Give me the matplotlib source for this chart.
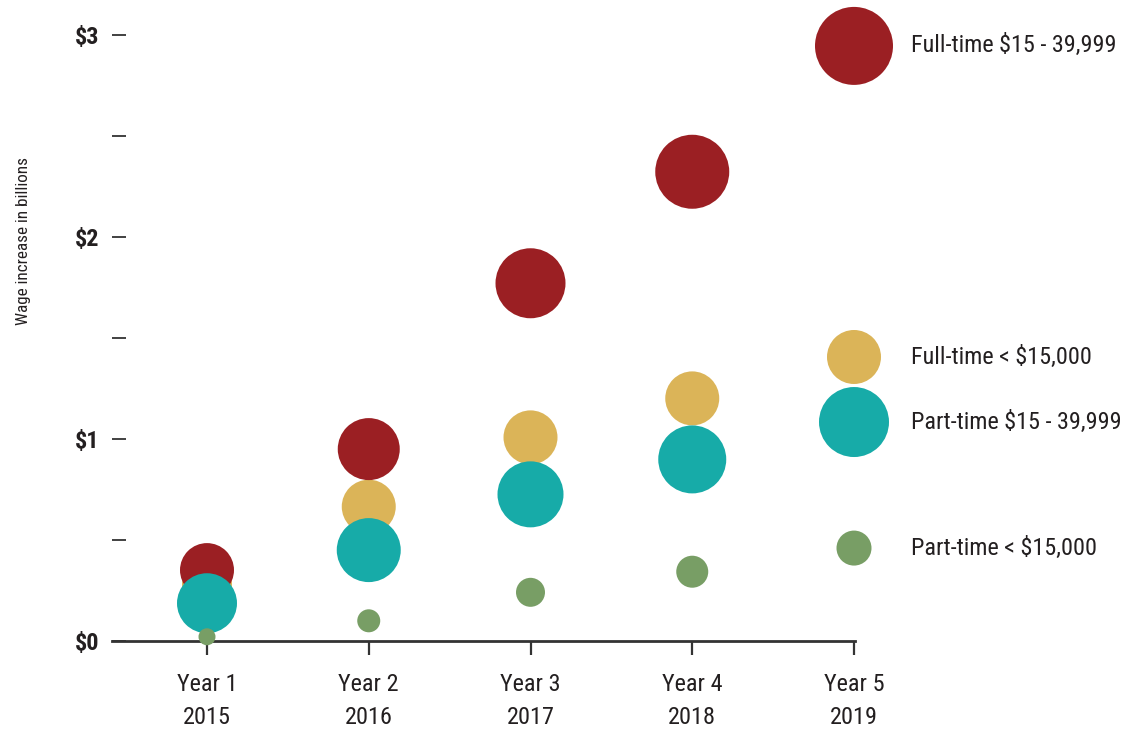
import matplotlib
matplotlib.use("Agg")
import matplotlib.pyplot as plt
from matplotlib import font_manager as fm

# ---------------- data ----------------
years = ["Year 1\n2015", "Year 2\n2016", "Year 3\n2017", "Year 4\n2018", "Year 5\n2019"]
series_names = ["Full-time < $15,000", "Full-time $15 - 39,999",
                "Part-time $15 - 39,999", "Part-time < $15,000"]
ft_low = [0.28, 0.665, 1.008, 1.201, 1.406]      # Full-time < $15,000
ft_mid = [0.351, 0.950, 1.771, 2.323, 2.946]     # Full-time $15 - 39,999
pt_mid = [0.187, 0.450, 0.726, 0.899, 1.084]     # Part-time $15 - 39,999
pt_low = [0.021, 0.100, 0.241, 0.343, 0.460]     # Part-time < $15,000
# bubble radii (pixels) as drawn in the reference
r_ft_low = [25, 27, 27, 27, 27]
r_ft_mid = [27, 31, 35, 37, 39]
r_pt_mid = [30, 32, 33, 34, 35]
r_pt_low = [8.5, 11.5, 14.5, 16, 17.5]
y_ticks = [0, 0.5, 1, 1.5, 2, 2.5, 3]
y_tick_labels = ["$0", "", "$1", "", "$2", "", "$3"]

colors = ["#DBB458", "#9B1F23", "#17ABA8", "#789E65"]

# ---------------- fonts ----------------
avail = {f.name for f in fm.fontManager.ttflist}
cands = ["Roboto Condensed", "Liberation Sans Narrow", "DejaVu Sans Condensed",
         "Open Sans Condensed", "Liberation Sans"]
fam = next((c for c in cands if c in avail), "DejaVu Sans")
narrow = fam in ("Liberation Sans Narrow", "DejaVu Sans Condensed", "Roboto Condensed", "Open Sans Condensed")
plt.rcParams['font.family'] = [fam, 'DejaVu Sans']
scale = 1.0 if narrow else 0.82

DPI = 100
W, H = 1131, 730
fig = plt.figure(figsize=(W / DPI, H / DPI), dpi=DPI)

left_px, right_px, bottom_px, top_px = 112, 855, 641, 35
ax = fig.add_axes([left_px / W, 1 - bottom_px / H,
                   (right_px - left_px) / W, (bottom_px - top_px) / H])
step = (854 - 207) / 4.0
x_left = -(207 - left_px) / step
ax.set_xlim(x_left, 4 + (855 - 854) / step)
ax.set_ylim(0, 3)

xs = list(range(len(years)))


def s_of(r):
    return [(2 * rr * 72 / DPI) ** 2 for rr in r]


for vals, rad, col in [(ft_low, r_ft_low, colors[0]), (ft_mid, r_ft_mid, colors[1]),
                       (pt_mid, r_pt_mid, colors[2]), (pt_low, r_pt_low, colors[3])]:
    ax.scatter(xs, vals, s=s_of(rad), color=col, edgecolors='none',
               clip_on=False, zorder=3)

# labels next to the Year 5 bubbles
label_x = 4 + (911 - 854) / step
for name, vals in zip(series_names, [ft_low, ft_mid, pt_mid, pt_low]):
    ax.text(label_x, vals[-1], name, ha='left', va='center',
            fontsize=17.4 * scale, color='#231F20', clip_on=False)

# spines / ticks
for sp in ['top', 'right', 'left']:
    ax.spines[sp].set_visible(False)
ax.spines['bottom'].set_color('#333333')
ax.spines['bottom'].set_linewidth(2)
ax.spines['bottom'].set_zorder(2)

ax.set_yticks(y_ticks)
ax.set_yticklabels(y_tick_labels, fontsize=17.5 * scale, fontweight='bold', color='#231F20')
ax.tick_params(axis='y', direction='in', length=10, width=1.3, color='#333333', pad=9)

ax.set_xticks(xs)
ax.set_xticklabels(years, fontsize=17.5 * scale, color='#231F20', linespacing=1.55)
ax.tick_params(axis='x', direction='out', length=10, width=1.6, color='#333333', pad=13)

fig.text(24 / W, 1 - 241 / H, "Wage increase in billions", rotation=90,
         ha='center', va='center', fontsize=12.3 * scale, color='#231F20')

fig.savefig("out.png", dpi=DPI)
